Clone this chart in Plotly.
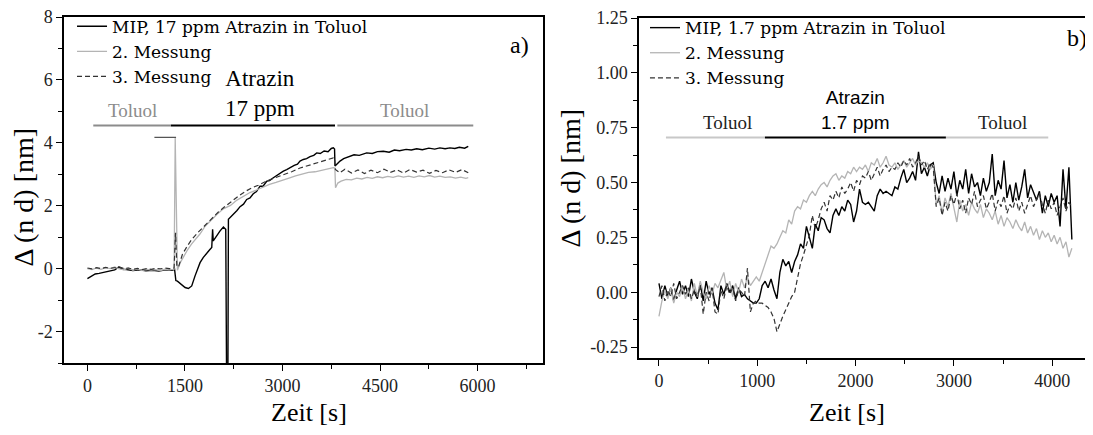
import plotly.graph_objects as go

SERIF = "Liberation Serif"
SANS = "Liberation Sans"

# ---- panel a): 17 ppm Atrazin, (time [s], delta nd [nm]) ----
mip_a = [(0, -0.32), (60, -0.25), (120, -0.17), (180, -0.15), (240, -0.12), (300, -0.10),
         (360, -0.06), (420, -0.04), (480, 0.05), (540, -0.02), (600, -0.03), (700, -0.06),
         (800, -0.04), (900, -0.07), (1000, -0.05), (1100, -0.08), (1200, -0.04), (1300, -0.05),
         (1340, -0.02), (1360, -0.38), (1384, -0.40), (1425, -0.47), (1460, -0.55), (1502, -0.60),
         (1553, -0.63), (1604, -0.55), (1655, -0.23), (1700, 0.0), (1732, 0.19), (1780, 0.35),
         (1835, 0.51), (1880, 0.60), (1912, 0.67), (1925, 1.25), (1935, 0.88), (1988, 1.05),
         (2040, 1.20), (2091, 1.32), (2127, 1.25), (2140, -3.5), (2160, -3.5), (2168, 1.57),
         (2244, 1.72), (2300, 1.85), (2347, 1.97), (2400, 2.05), (2449, 2.20), (2500, 2.25),
         (2550, 2.38), (2600, 2.45), (2654, 2.62), (2700, 2.62), (2760, 2.78), (2800, 2.80),
         (2859, 2.89), (2900, 2.95), (2960, 3.05), (3013, 3.10), (3064, 3.15), (3120, 3.22),
         (3180, 3.28), (3230, 3.32), (3269, 3.42), (3320, 3.47), (3370, 3.50), (3423, 3.56),
         (3480, 3.60), (3526, 3.68), (3580, 3.66), (3640, 3.74), (3700, 3.72), (3750, 3.82),
         (3781, 3.84), (3800, 3.80), (3807, 3.26), (3850, 3.35), (3884, 3.42), (3940, 3.50),
         (4038, 3.57), (4100, 3.62), (4180, 3.60), (4294, 3.68), (4380, 3.66), (4460, 3.72),
         (4550, 3.73), (4640, 3.70), (4720, 3.77), (4800, 3.75), (4900, 3.79), (4980, 3.77),
         (5063, 3.81), (5150, 3.78), (5250, 3.83), (5340, 3.80), (5420, 3.84), (5500, 3.81),
         (5575, 3.84), (5650, 3.82), (5720, 3.86), (5800, 3.83), (5856, 3.89)]

mess2_a = [(0, 0.0), (70, -0.03), (140, 0.02), (210, -0.02), (280, 0.03), (350, 0.0),
           (420, 0.05), (490, -0.01), (560, -0.04), (630, 0.02), (700, -0.05), (770, -0.01),
           (840, -0.06), (910, -0.02), (980, -0.05), (1050, -0.03), (1120, -0.06), (1190, -0.02),
           (1260, -0.04), (1333, -0.02), (1350, 4.15), (1384, -0.05), (1430, 0.2), (1480, 0.4),
           (1540, 0.6), (1600, 0.78), (1660, 0.93), (1730, 1.1), (1810, 1.35), (1880, 1.5),
           (1990, 1.72), (2090, 1.9), (2200, 2.01), (2300, 2.18), (2400, 2.3), (2500, 2.42),
           (2600, 2.5), (2700, 2.6), (2800, 2.68), (2900, 2.74), (3013, 2.83), (3100, 2.88),
           (3200, 2.95), (3300, 3.0), (3400, 3.06), (3500, 3.08), (3600, 3.13), (3700, 3.16),
           (3781, 3.21), (3805, 3.2), (3815, 2.57), (3850, 2.72), (3900, 2.78), (3980, 2.84),
           (4060, 2.82), (4140, 2.88), (4220, 2.85), (4300, 2.9), (4380, 2.87), (4460, 2.92),
           (4540, 2.89), (4620, 2.93), (4700, 2.9), (4780, 2.95), (4860, 2.91), (4940, 2.94),
           (5020, 2.9), (5100, 2.95), (5180, 2.92), (5260, 2.96), (5340, 2.91), (5420, 2.94),
           (5500, 2.9), (5580, 2.92), (5660, 2.88), (5740, 2.91), (5820, 2.87), (5856, 2.89)]

mess3_a = [(0, 0.02), (70, -0.01), (140, 0.03), (210, 0.0), (280, 0.04), (350, 0.01),
           (420, 0.03), (490, 0.06), (560, 0.0), (630, 0.02), (700, -0.02), (770, 0.01),
           (840, -0.03), (910, 0.0), (980, -0.02), (1050, 0.01), (1120, -0.01), (1190, 0.02),
           (1260, 0.0), (1333, 0.02), (1355, 1.14), (1375, 0.08), (1400, 0.05), (1460, 0.45),
           (1530, 0.7), (1604, 0.93), (1700, 1.15), (1809, 1.38), (1900, 1.58), (2014, 1.8),
           (2100, 1.95), (2219, 2.15), (2320, 2.3), (2424, 2.45), (2530, 2.57), (2629, 2.65),
           (2750, 2.78), (2885, 2.89), (3013, 2.98), (3141, 3.08), (3270, 3.2), (3397, 3.28),
           (3526, 3.36), (3650, 3.44), (3781, 3.52), (3800, 3.5), (3812, 3.15), (3880, 3.05),
           (3960, 3.16), (4060, 3.04), (4160, 3.14), (4260, 3.02), (4360, 3.13), (4460, 3.05),
           (4560, 3.16), (4660, 3.06), (4760, 3.14), (4860, 3.04), (4960, 3.15), (5060, 3.07),
           (5160, 3.13), (5260, 3.03), (5360, 3.12), (5460, 3.05), (5560, 3.14), (5660, 3.06),
           (5760, 3.15), (5856, 3.05)]

inject_a = [(1030, 4.17), (1363, 4.17)]

# phase bars: (start, end, colour)
phases_a = [(90, 1275, "#8c8c8c"), (1280, 3807, "#000000"), (3843, 5933, "#8c8c8c")]
phase_y_a = 4.55

# ---- panel b): 1.7 ppm Atrazin, sampled every 30 s from 0 to 4200 s ----
t_b = list(range(0, 4201, 30))

mip_b = [0.04, -0.03, 0.03, -0.02, 0.02, -0.04, 0.01, 0.05, -0.01, 0.03,
         -0.02, 0.06, 0.00, -0.03, 0.04, -0.04, 0.05, -0.01, 0.02, -0.05,
         -0.08, 0.03, -0.01, 0.04, 0.00, 0.03, -0.03, 0.02, -0.02, -0.01,
         -0.03, -0.04, -0.05, -0.05, -0.03, 0.03, 0.05, 0.02, 0.06, 0.01,
         -0.03, 0.09, 0.15, 0.12, 0.14, 0.09, 0.14, 0.17, 0.22, 0.20,
         0.30, 0.25, 0.20, 0.31, 0.28, 0.34, 0.33, 0.29, 0.27, 0.35,
         0.38, 0.35, 0.39, 0.37, 0.42, 0.40, 0.32, 0.37, 0.47, 0.41,
         0.40, 0.41, 0.39, 0.37, 0.44, 0.47, 0.45, 0.46, 0.45, 0.44,
         0.48, 0.47, 0.52, 0.56, 0.50, 0.52, 0.55, 0.51, 0.64, 0.54,
         0.57, 0.53, 0.58, 0.59, 0.50, 0.45, 0.53, 0.46, 0.52, 0.47,
         0.55, 0.44, 0.51, 0.47, 0.56, 0.45, 0.54, 0.48, 0.50, 0.44,
         0.52, 0.46, 0.50, 0.63, 0.44, 0.51, 0.47, 0.60, 0.43, 0.49,
         0.41, 0.50, 0.42, 0.48, 0.56, 0.43, 0.49, 0.45, 0.42, 0.46,
         0.36, 0.44, 0.39, 0.45, 0.41, 0.44, 0.30, 0.56, 0.38, 0.57,
         0.24]

mess2_b = [-0.11, -0.04, 0.01, -0.03, 0.02, -0.05, 0.00, -0.02, 0.03, -0.03,
           0.01, -0.04, 0.04, -0.02, 0.05, 0.00, -0.03, 0.03, -0.01, 0.04,
           0.02, 0.06, 0.09, 0.01, 0.05, -0.02, 0.04, 0.00, 0.06, 0.02,
           0.07, 0.03, 0.05, 0.07, 0.05, 0.09, 0.13, 0.17, 0.21, 0.20,
           0.22, 0.25, 0.28, 0.27, 0.33, 0.31, 0.37, 0.39, 0.38, 0.42,
           0.41, 0.44, 0.46, 0.44, 0.47, 0.49, 0.50, 0.48, 0.51, 0.53,
           0.54, 0.51, 0.53, 0.52, 0.55, 0.54, 0.57, 0.55, 0.57, 0.56,
           0.58, 0.55, 0.59, 0.58, 0.61, 0.57, 0.59, 0.62, 0.58, 0.57,
           0.59, 0.56, 0.58, 0.60, 0.57, 0.59, 0.61, 0.58, 0.60, 0.59,
           0.57, 0.59, 0.56, 0.58, 0.40, 0.44, 0.36, 0.43, 0.39, 0.45,
           0.38, 0.32, 0.42, 0.37, 0.40, 0.35, 0.41, 0.38, 0.36, 0.40,
           0.34, 0.38, 0.36, 0.33, 0.37, 0.31, 0.35, 0.30, 0.34, 0.32,
           0.29, 0.33, 0.30, 0.28, 0.32, 0.27, 0.30, 0.26, 0.29, 0.24,
           0.28, 0.25, 0.27, 0.23, 0.26, 0.22, 0.25, 0.20, 0.23, 0.16,
           0.20]

mess3_b = [-0.02, 0.03, -0.04, 0.01, -0.02, 0.04, -0.03, 0.00, 0.03, -0.01,
           0.02, -0.03, 0.01, -0.02, 0.03, -0.10, 0.00, -0.04, 0.02, -0.09,
           -0.10, 0.01, -0.03, 0.03, -0.01, 0.02, -0.04, 0.01, 0.00, -0.02,
           0.11, -0.09, -0.05, -0.04, -0.05, -0.05, -0.06, -0.07, -0.09, -0.12,
           -0.18, -0.14, -0.11, -0.08, -0.05, -0.02, 0.00, 0.06, 0.13, 0.17,
           0.21, 0.26, 0.35, 0.29, 0.33, 0.38, 0.41, 0.37, 0.44, 0.42,
           0.46, 0.43, 0.48, 0.45, 0.47, 0.50, 0.46, 0.51, 0.49, 0.53,
           0.52, 0.55, 0.51, 0.54, 0.57, 0.53, 0.56, 0.58, 0.55, 0.57,
           0.56, 0.59, 0.57, 0.60, 0.58, 0.61, 0.57, 0.59, 0.62, 0.58,
           0.60, 0.56, 0.59, 0.57, 0.39, 0.43, 0.35, 0.41, 0.37, 0.44,
           0.40, 0.45, 0.38, 0.42, 0.36, 0.43, 0.40, 0.46, 0.39, 0.42,
           0.44, 0.38, 0.41, 0.45, 0.37, 0.42, 0.39, 0.44, 0.36, 0.40,
           0.38, 0.43, 0.37, 0.41, 0.36, 0.40, 0.44, 0.39, 0.42, 0.45,
           0.40, 0.36, 0.42, 0.38, 0.41, 0.35, 0.39, 0.43, 0.37, 0.41,
           0.39]

phases_b = [(71, 1078, "#c8c8c8"), (1078, 2919, "#000000"), (2919, 3960, "#c8c8c8")]
phase_y_b = 0.705

# axis ticks
xa_ticks = [0, 1500, 3000, 4500, 6000]
ya_ticks = [-2, 0, 2, 4, 6, 8]
xb_ticks = [0, 1000, 2000, 3000, 4000]
yb_ticks = [-0.25, 0.0, 0.25, 0.50, 0.75, 1.00, 1.25]

BLACK = "#000000"
GRAY = "#b4b4b4"
DASH = "#333333"


def unzip(pairs):
    return [p[0] for p in pairs], [p[1] for p in pairs]


fig = go.Figure()

# panel a traces
for pairs, name, color, dash, lw in [
    (mip_a, "MIP, 17 ppm Atrazin in Toluol", BLACK, "solid", 1.4),
    (mess2_a, "2. Messung", GRAY, "solid", 1.3),
    (mess3_a, "3. Messung", DASH, "5px,3px", 1.2),
]:
    x, y = unzip(pairs)
    fig.add_trace(go.Scatter(x=x, y=y, mode="lines", name=name,
                             line=dict(color=color, width=lw, dash=dash),
                             xaxis="x", yaxis="y", legend="legend"))
x, y = unzip(inject_a)
fig.add_trace(go.Scatter(x=x, y=y, mode="lines", showlegend=False,
                         line=dict(color="#555555", width=1.3), xaxis="x", yaxis="y"))

# panel b traces
for vals, name, color, dash, lw in [
    (mip_b, "MIP, 1.7 ppm Atrazin in Toluol", BLACK, "solid", 1.4),
    (mess2_b, "2. Messung", GRAY, "solid", 1.3),
    (mess3_b, "3. Messung", DASH, "5px,3px", 1.2),
]:
    fig.add_trace(go.Scatter(x=t_b, y=vals, mode="lines", name=name,
                             line=dict(color=color, width=lw, dash=dash),
                             xaxis="x2", yaxis="y2", legend="legend2"))

# phase bars
for s, e, c in phases_a:
    fig.add_shape(type="line", xref="x", yref="y", x0=s, x1=e, y0=phase_y_a, y1=phase_y_a,
                  line=dict(color=c, width=2))
for s, e, c in phases_b:
    fig.add_shape(type="line", xref="x2", yref="y2", x0=s, x1=e, y0=phase_y_b, y1=phase_y_b,
                  line=dict(color=c, width=2))


def label(xref, yref, x, y, text, family, size, color, yanchor="middle", angle=0, xanchor="center"):
    return dict(xref=xref, yref=yref, x=x, y=y, text=text, textangle=angle,
                xanchor=xanchor, yanchor=yanchor, showarrow=False,
                font=dict(family=family, size=size, color=color))


ann = [
    label("x", "y", 690, 4.62, "Toluol", SERIF, 19, "#8c8c8c", "bottom"),
    label("x", "y", 2650, 4.62, "Atrazin<br>17 ppm", SERIF, 23, "black", "bottom"),
    label("x", "y", 4880, 4.62, "Toluol", SERIF, 19, "#8c8c8c", "bottom"),
    label("x", "y", 6650, 7.1, "a)", SERIF, 24, "black"),
    label("x2", "y2", 700, 0.715, "Toluol", SERIF, 19, "#222222", "bottom"),
    label("x2", "y2", 1995, 0.715, "Atrazin<br>1.7 ppm", SANS, 19, "black", "bottom"),
    label("x2", "y2", 3490, 0.715, "Toluol", SERIF, 19, "#222222", "bottom"),
    label("x2", "y2", 4370, 1.16, "b)", SERIF, 24, "black", xanchor="right"),
    # axis titles
    label("paper", "paper", -0.039, 0.481, "Δ (n d) [nm]", SERIF, 28, "black", angle=-90),
    label("paper", "paper", 0.4927, 0.536, "Δ (n d) [nm]", SERIF, 28, "black", angle=-90),
    label("paper", "paper", 0.238, -0.1436, "Zeit [s]", SERIF, 26, "black"),
    label("paper", "paper", 0.761, -0.1436, "Zeit [s]", SERIF, 26, "black"),
]

tickfont = dict(family=SERIF, size=18, color="#222222")
common = dict(showline=True, linecolor="black", linewidth=1.5, ticks="outside", ticklen=6,
              tickwidth=1.3, tickcolor="black", showgrid=False, zeroline=False, tickfont=tickfont,
              ticklabeloverflow="allow")


def minor(step):
    return dict(dtick=step, tick0=0, ticks="outside", ticklen=4, tickwidth=1.3, tickcolor="black")


legend_font = dict(family="DejaVu Serif", size=17, color="black")

# the page has an 8px body margin, so the figure is 8px smaller and shifted margins
fig.update_layout(
    width=1085, height=427,
    margin=dict(l=56, r=0, t=9, b=72),
    paper_bgcolor="white", plot_bgcolor="white",
    annotations=ann,
    xaxis=dict(domain=[0, 0.4658], range=[-360, 7010], anchor="y", mirror=True,
               tickvals=xa_ticks, ticktext=[str(v) for v in xa_ticks], minor=minor(750), **common),
    yaxis=dict(domain=[0, 1], range=[-3, 8], anchor="x", mirror=True,
               tickvals=ya_ticks, ticktext=[str(v) for v in ya_ticks], minor=minor(1), **common),
    xaxis2=dict(domain=[0.5588, 1], range=[-203, 4415], anchor="y2", mirror=True,
                tickvals=xb_ticks, ticktext=[str(v) for v in xb_ticks], minor=minor(500), **common),
    yaxis2=dict(domain=[0.0145, 0.997], range=[-0.3, 1.25], anchor="x2", mirror=False,
                tickvals=yb_ticks, ticktext=["%.2f" % v for v in yb_ticks], minor=minor(0.125), **common),
    legend=dict(x=0.0078, y=1.024, xanchor="left", yanchor="top", bgcolor="rgba(0,0,0,0)",
                font=legend_font, tracegroupgap=0),
    legend2=dict(x=0.5646, y=1.02, xanchor="left", yanchor="top", bgcolor="rgba(0,0,0,0)",
                 font=legend_font, tracegroupgap=0),
    showlegend=True,
)

fig.write_html("out.html")
